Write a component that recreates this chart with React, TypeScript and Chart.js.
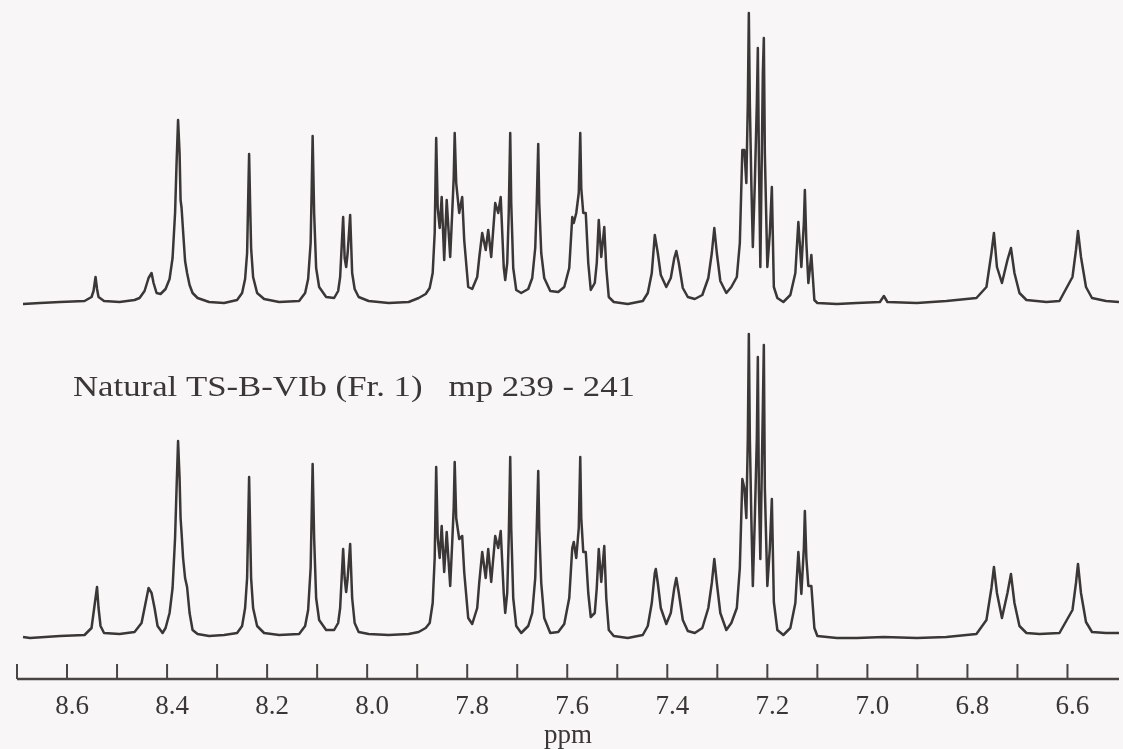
import React, { useEffect, useRef } from 'react';
import { Chart, registerables } from 'chart.js';

Chart.register(...registerables);

// Upper trace (synthetic sample): chemical shift (ppm) and signal height above its baseline
const topPpm = [
  8.688, 8.654, 8.614, 8.565, 8.551, 8.547, 8.543, 8.540, 8.537, 8.526, 8.495, 8.465, 8.455, 8.445, 8.437, 8.431,
  8.427, 8.421, 8.413, 8.403, 8.395, 8.389, 8.384, 8.381, 8.378, 8.375, 8.373, 8.371, 8.368, 8.364, 8.360, 8.355,
  8.349, 8.339, 8.316, 8.286, 8.260, 8.250, 8.244, 8.240, 8.238, 8.236, 8.234, 8.232, 8.228, 8.220, 8.206, 8.176,
  8.136, 8.124, 8.118, 8.113, 8.111, 8.109, 8.106, 8.102, 8.096, 8.082, 8.066, 8.058, 8.054, 8.048, 8.045, 8.042,
  8.039, 8.034, 8.030, 8.025, 8.017, 7.997, 7.957, 7.917, 7.897, 7.883, 7.875, 7.869, 7.865, 7.862, 7.859, 7.855,
  7.851, 7.846, 7.841, 7.837, 7.834, 7.830, 7.827, 7.825, 7.822, 7.816, 7.810, 7.806, 7.798, 7.790, 7.780, 7.776,
  7.770, 7.763, 7.758, 7.752, 7.744, 7.738, 7.733, 7.727, 7.724, 7.720, 7.717, 7.714, 7.712, 7.708, 7.702, 7.692,
  7.678, 7.670, 7.664, 7.661, 7.658, 7.656, 7.652, 7.646, 7.634, 7.618, 7.606, 7.596, 7.590, 7.587, 7.582, 7.577,
  7.574, 7.572, 7.568, 7.563, 7.558, 7.553, 7.545, 7.541, 7.537, 7.532, 7.526, 7.522, 7.517, 7.507, 7.479, 7.449,
  7.439, 7.431, 7.425, 7.419, 7.413, 7.402, 7.393, 7.386, 7.382, 7.377, 7.369, 7.359, 7.345, 7.330, 7.318, 7.311,
  7.306, 7.301, 7.294, 7.282, 7.272, 7.261, 7.255, 7.250, 7.246, 7.242, 7.239, 7.237, 7.235, 7.232, 7.229, 7.225,
  7.221, 7.219, 7.217, 7.214, 7.211, 7.209, 7.207, 7.205, 7.200, 7.195, 7.191, 7.187, 7.180, 7.168, 7.154, 7.144,
  7.138, 7.132, 7.127, 7.125, 7.122, 7.118, 7.112, 7.106, 7.100, 7.061, 7.021, 6.975, 6.967, 6.960, 6.901, 6.842,
  6.782, 6.762, 6.752, 6.747, 6.741, 6.731, 6.720, 6.713, 6.706, 6.696, 6.682, 6.642, 6.616, 6.590, 6.583, 6.579,
  6.573, 6.563, 6.551, 6.523, 6.497,
];
const topHeight = [
  -1, 0, 1, 2, 6, 12, 26, 14, 6, 2, 1, 3, 5, 12, 25, 30,
  20, 10, 9, 14, 24, 45, 90, 140, 183, 150, 103, 95, 72, 42, 30, 18,
  10, 5, 1, 0, 3, 10, 24, 50, 100, 149, 100, 55, 26, 10, 4, 1,
  2, 10, 24, 60, 110, 167, 90, 35, 16, 6, 5, 12, 26, 86, 45, 36,
  50, 88, 30, 14, 6, 2, 0, 1, 5, 9, 15, 30, 70, 165, 95, 75,
  106, 43, 103, 70, 46, 90, 125, 170, 120, 90, 106, 63, 16, 14, 26, 45,
  70, 53, 73, 46, 100, 90, 106, 36, 23, 40, 90, 170, 100, 35, 13, 10,
  14, 25, 55, 100, 159, 100, 50, 25, 12, 11, 16, 35, 86, 80, 90, 110,
  170, 115, 90, 90, 40, 13, 20, 40, 83, 46, 76, 35, 6, 1, -1, 2,
  10, 30, 68, 50, 28, 16, 25, 45, 52, 40, 15, 6, 4, 8, 25, 50,
  75, 50, 22, 10, 16, 26, 60, 153, 153, 120, 200, 290, 200, 120, 56, 120,
  200, 255, 150, 36, 150, 230, 265, 150, 36, 70, 116, 16, 5, 1, 8, 30,
  81, 36, 80, 113, 60, 20, 48, 3, 0, -1, 0, 1, 7, 1, 0, 2,
  5, 16, 50, 70, 36, 20, 43, 55, 30, 10, 3, 1, 2, 26, 53, 72,
  46, 16, 5, 2, 1,
];

// Lower trace (Natural TS-B-VIb, Fr. 1)
const bottomPpm = [
  8.688, 8.674, 8.614, 8.565, 8.551, 8.547, 8.543, 8.540, 8.537, 8.533, 8.526, 8.495, 8.465, 8.451, 8.443, 8.437,
  8.431, 8.425, 8.419, 8.409, 8.403, 8.395, 8.389, 8.384, 8.381, 8.378, 8.375, 8.373, 8.371, 8.368, 8.364, 8.360,
  8.355, 8.349, 8.339, 8.316, 8.286, 8.260, 8.250, 8.244, 8.240, 8.238, 8.236, 8.234, 8.232, 8.228, 8.220, 8.206,
  8.176, 8.136, 8.124, 8.118, 8.113, 8.111, 8.109, 8.106, 8.102, 8.096, 8.082, 8.066, 8.058, 8.054, 8.048, 8.045,
  8.042, 8.039, 8.034, 8.030, 8.025, 8.017, 7.997, 7.957, 7.917, 7.897, 7.883, 7.875, 7.869, 7.865, 7.862, 7.859,
  7.855, 7.851, 7.846, 7.841, 7.837, 7.834, 7.830, 7.827, 7.825, 7.822, 7.816, 7.810, 7.806, 7.798, 7.790, 7.780,
  7.776, 7.770, 7.763, 7.758, 7.752, 7.744, 7.738, 7.733, 7.727, 7.724, 7.720, 7.717, 7.714, 7.712, 7.708, 7.702,
  7.692, 7.678, 7.670, 7.664, 7.661, 7.658, 7.656, 7.652, 7.646, 7.634, 7.618, 7.606, 7.596, 7.590, 7.587, 7.582,
  7.577, 7.574, 7.572, 7.568, 7.563, 7.558, 7.553, 7.545, 7.541, 7.537, 7.532, 7.526, 7.522, 7.517, 7.507, 7.479,
  7.449, 7.439, 7.431, 7.425, 7.423, 7.419, 7.413, 7.402, 7.393, 7.386, 7.382, 7.377, 7.369, 7.359, 7.345, 7.330,
  7.318, 7.311, 7.306, 7.301, 7.294, 7.282, 7.272, 7.261, 7.255, 7.250, 7.246, 7.242, 7.239, 7.237, 7.235, 7.232,
  7.229, 7.225, 7.221, 7.219, 7.217, 7.214, 7.211, 7.209, 7.207, 7.205, 7.200, 7.195, 7.191, 7.187, 7.180, 7.168,
  7.154, 7.144, 7.138, 7.132, 7.127, 7.125, 7.122, 7.118, 7.112, 7.106, 7.100, 7.061, 7.021, 6.967, 6.901, 6.842,
  6.782, 6.762, 6.752, 6.747, 6.741, 6.731, 6.720, 6.713, 6.706, 6.696, 6.682, 6.656, 6.616, 6.590, 6.583, 6.579,
  6.573, 6.563, 6.551, 6.523, 6.497,
];
const bottomHeight = [
  1, 0, 2, 3, 10, 25, 40, 51, 30, 12, 5, 4, 6, 15, 35, 50,
  45, 30, 12, 5, 10, 25, 50, 100, 150, 197, 160, 120, 105, 80, 60, 51,
  25, 8, 4, 2, 3, 5, 12, 30, 60, 110, 161, 110, 60, 30, 12, 5,
  3, 4, 12, 28, 70, 120, 174, 100, 40, 18, 8, 8, 15, 30, 89, 60,
  46, 60, 94, 40, 15, 6, 4, 3, 4, 6, 10, 15, 35, 80, 171, 100,
  80, 112, 66, 106, 75, 52, 95, 130, 176, 120, 99, 102, 66, 20, 14, 30,
  55, 86, 60, 89, 56, 102, 90, 107, 45, 25, 45, 100, 181, 110, 40, 12,
  5, 12, 25, 60, 110, 167, 110, 55, 20, 5, 6, 14, 40, 90, 96, 80,
  110, 181, 120, 86, 86, 45, 21, 25, 50, 89, 56, 92, 40, 8, 2, 0,
  3, 12, 35, 65, 69, 55, 30, 14, 25, 50, 60, 45, 18, 7, 5, 10,
  30, 55, 79, 55, 25, 8, 15, 30, 70, 159, 150, 120, 200, 304, 200, 120,
  52, 120, 200, 281, 150, 79, 170, 230, 293, 150, 52, 90, 139, 36, 8, 3,
  10, 35, 86, 44, 90, 127, 80, 52, 52, 10, 2, 0, 0, 1, 0, 1,
  4, 18, 50, 71, 45, 20, 45, 64, 35, 12, 5, 4, 5, 28, 55, 74,
  45, 16, 6, 5, 5,
];

// Axis: minor tick marks every 0.1 ppm, labels every 0.2 ppm
const tickMarks = [8.7, 8.6, 8.5, 8.4, 8.3, 8.2, 8.1, 8.0, 7.9, 7.8, 7.7, 7.6, 7.5, 7.4, 7.3, 7.2, 7.1, 7.0, 6.9, 6.8, 6.7, 6.6];
const tickLabels = ['8.6', '8.4', '8.2', '8.0', '7.8', '7.6', '7.4', '7.2', '7.0', '6.8', '6.6'];
const axisTitle = 'ppm';
const sampleLabel = 'Natural TS-B-VIb (Fr. 1)   mp 239 - 241';

const INK = '#3b3737';
const PAPER = '#f8f6f6';
const SERIF = '"Liberation Serif", "Times New Roman", serif';

const toPoints = (xs: number[], ys: number[]) => xs.map((x, i) => ({ x, y: ys[i] }));

const framePlugin = {
  id: 'spectrumFrame',
  beforeDraw(chart: any) {
    const { ctx, width, height } = chart;
    ctx.save();
    ctx.fillStyle = PAPER;
    ctx.fillRect(0, 0, width, height);
    ctx.restore();
  },
  afterDraw(chart: any) {
    const { ctx, chartArea } = chart;
    const xs = chart.scales.x;
    const yAxis = chartArea.bottom;
    ctx.save();
    ctx.strokeStyle = '#4a4545';
    ctx.lineWidth = 2.5;
    ctx.beginPath();
    ctx.moveTo(xs.getPixelForValue(8.7), yAxis);
    ctx.lineTo(chartArea.right, yAxis);
    ctx.stroke();
    ctx.lineWidth = 2;
    tickMarks.forEach((v) => {
      const px = xs.getPixelForValue(v);
      ctx.beginPath();
      ctx.moveTo(px, yAxis);
      ctx.lineTo(px, yAxis - 15);
      ctx.stroke();
    });
    // sample caption between the two traces
    ctx.fillStyle = INK;
    ctx.font = `30px ${SERIF}`;
    ctx.textBaseline = 'alphabetic';
    ctx.textAlign = 'left';
    const w = ctx.measureText(sampleLabel).width;
    const sx = 562 / w;
    ctx.translate(73, 396);
    ctx.scale(sx, 1);
    ctx.fillText(sampleLabel, 0, 0);
    ctx.restore();
  },
};

export default function App() {
  const ref = useRef<HTMLCanvasElement | null>(null);

  useEffect(() => {
    if (!ref.current) return;
    const chart = new Chart(ref.current, {
      type: 'line',
      data: {
        datasets: [
          {
            label: 'Synthetic',
            data: toPoints(topPpm, topHeight),
            yAxisID: 'yTop',
            borderColor: INK,
            borderWidth: 2.5,
            pointRadius: 0,
            tension: 0,
            borderJoinStyle: 'round',
            fill: false,
          },
          {
            label: 'Natural TS-B-VIb (Fr. 1)',
            data: toPoints(bottomPpm, bottomHeight),
            yAxisID: 'yBottom',
            borderColor: INK,
            borderWidth: 2.5,
            pointRadius: 0,
            tension: 0,
            borderJoinStyle: 'round',
            fill: false,
          },
        ],
      },
      options: {
        responsive: false,
        animation: false,
        devicePixelRatio: 1,
        layout: { padding: { left: 17, right: 0, top: 0, bottom: 0 } },
        plugins: {
          legend: { display: false },
          tooltip: { enabled: false },
          title: { display: false },
        },
        scales: {
          x: {
            type: 'linear',
            reverse: true,
            min: 6.497,
            max: 8.7,
            afterFit: (scale: any) => {
              scale.height = 70;
            },
            grid: { display: false },
            border: { display: false },
            ticks: {
              stepSize: 0.1,
              autoSkip: false,
              maxRotation: 0,
              minRotation: 0,
              padding: 4,
              labelOffset: 5,
              color: INK,
              font: { family: SERIF, size: 27 },
              callback: (value: any) => {
                const s = (Math.round(Number(value) * 10) / 10).toFixed(1);
                return tickLabels.includes(s) ? s : '';
              },
            },
            title: {
              display: true,
              text: axisTitle,
              color: INK,
              font: { family: SERIF, size: 27, lineHeight: 1 },
              padding: 0,
            },
          },
          yTop: { type: 'linear', display: false, min: -376, max: 303 },
          yBottom: { type: 'linear', display: false, min: -41, max: 638 },
        },
      },
      plugins: [framePlugin],
    });
    return () => chart.destroy();
  }, []);

  return (
    <div style={{ position: 'absolute', left: 0, top: 0, width: 1123, height: 749, background: PAPER }}>
      <canvas ref={ref} width={1123} height={749} style={{ display: 'block' }} />
    </div>
  );
}
